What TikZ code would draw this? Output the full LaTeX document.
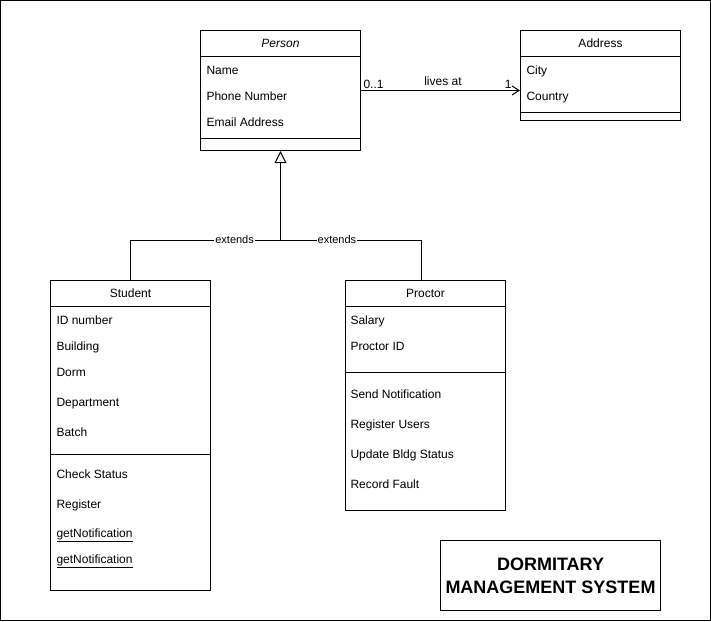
\documentclass[tikz,border=0pt]{standalone}
\usepackage{fontspec}
\setmainfont{Liberation Sans}
\usetikzlibrary{positioning,arrows.meta,calc}

\begin{document}
\begin{tikzpicture}[
  x=1pt, y=-1pt,
  font=\fontsize{12}{14}\selectfont,
  line width=1pt,
  umlclass/.style={draw, minimum width=160pt, anchor=north west, inner sep=0pt},
  member/.style={anchor=base west, inner sep=0pt},
  cname/.style={anchor=base, inner sep=0pt},
  lbl/.style={font=\fontsize{11}{13}\selectfont, inner sep=0pt},
  assoc/.style={-{Straight Barb[length=7pt, width=9pt]}},
  inherit/.style={-{Triangle[open, length=12pt, width=12pt]}, fill=white},
]
\useasboundingbox (0,0) rectangle (711,621);

% Frame
\draw (0.5,0.5) rectangle (710,620);

% Person
\node[umlclass, minimum height=120pt] (person) at (200,30) {};
\node[cname, font=\fontsize{12}{14}\selectfont\itshape] (personname) at ($(person.north)+(0,17)$) {Person};
\draw ($(person.north west)+(0,26)$) -- ($(person.north east)+(0,26)$);
\node[member] (pname) at ($(person.north west)+(6,44)$) {Name};
\node[member] (pphone) at ($(person.north west)+(6,70)$) {Phone Number};
\node[member] (pmail) at ($(person.north west)+(6,96)$) {Email Address};
\draw ($(person.north west)+(0,108)$) -- ($(person.north east)+(0,108)$);

% Address
\node[umlclass, minimum height=90pt] (address) at (520,30) {};
\node[cname] (addressname) at ($(address.north)+(0,17)$) {Address};
\draw ($(address.north west)+(0,26)$) -- ($(address.north east)+(0,26)$);
\node[member] (acity) at ($(address.north west)+(6,44)$) {City};
\node[member] (acountry) at ($(address.north west)+(6,70)$) {Country};
\draw ($(address.north west)+(0,82)$) -- ($(address.north east)+(0,82)$);

% Association
\draw[assoc] (person.east) -- (person.east -| address.west);
\node[lbl, font=\fontsize{12}{14}\selectfont, anchor=base west] (mult1) at ($(person.east)+(2,-2)$) {0..1};
\node[lbl, font=\fontsize{12}{14}\selectfont, anchor=base] (livesat) at (443,85) {lives at};
\node[lbl, font=\fontsize{12}{14}\selectfont, anchor=base east] (mult2) at ($(person.east -| address.west)+(-8,-2)$) {1};

% Student
\node[umlclass, minimum height=310pt] (student) at (50,280) {};
\node[cname] (studentname) at ($(student.north)+(0,17)$) {Student};
\draw ($(student.north west)+(0,26)$) -- ($(student.north east)+(0,26)$);
\node[member] (sid) at ($(student.north west)+(6,44)$) {ID number};
\node[member] (sbuilding) at ($(student.north west)+(6,70)$) {Building};
\node[member] (sdorm) at ($(student.north west)+(6,96)$) {Dorm};
\node[member] (sdept) at ($(student.north west)+(6,126)$) {Department};
\node[member] (sbatch) at ($(student.north west)+(6,156)$) {Batch};
\draw ($(student.north west)+(0,174)$) -- ($(student.north east)+(0,174)$);
\node[member] (scheck) at ($(student.north west)+(6,198)$) {Check Status};
\node[member] (sregister) at ($(student.north west)+(6,228)$) {Register};
\node[member] (snotify1) at ($(student.north west)+(6,257)$) {\underline{getNotification}};
\node[member] (snotify2) at ($(student.north west)+(6,283)$) {\underline{getNotification}};

% Proctor
\node[umlclass, minimum height=230pt] (proctor) at (345,280) {};
\node[cname] (proctorname) at ($(proctor.north)+(0,17)$) {Proctor};
\draw ($(proctor.north west)+(0,26)$) -- ($(proctor.north east)+(0,26)$);
\node[member] (psalary) at ($(proctor.north west)+(5,44)$) {Salary};
\node[member] (pid) at ($(proctor.north west)+(5,70)$) {Proctor ID};
\draw ($(proctor.north west)+(0,92)$) -- ($(proctor.north east)+(0,92)$);
\node[member] (psend) at ($(proctor.north west)+(5,118)$) {Send Notification};
\node[member] (pregister) at ($(proctor.north west)+(5,148)$) {Register Users};
\node[member] (pupdate) at ($(proctor.north west)+(5,178)$) {Update Bldg Status};
\node[member] (precord) at ($(proctor.north west)+(5,208)$) {Record Fault};

% Generalisation
\coordinate (join) at (person.south |- 0,240);
\draw (student.north) |- (join)
  node[lbl, pos=0.847, fill=white, inner sep=1pt] {extends};
\draw ([xshift=-4pt]proctor.north) |- (join)
  node[lbl, pos=0.8, fill=white, inner sep=1pt] {extends};
\draw[inherit] (join) -- (person.south);

% Title
\node[draw, minimum width=220pt, minimum height=70pt, anchor=north west, align=center,
      font=\fontsize{18}{23}\selectfont\bfseries] (title) at (440,540) {DORMITARY\\MANAGEMENT SYSTEM};

\end{tikzpicture}
\end{document}
